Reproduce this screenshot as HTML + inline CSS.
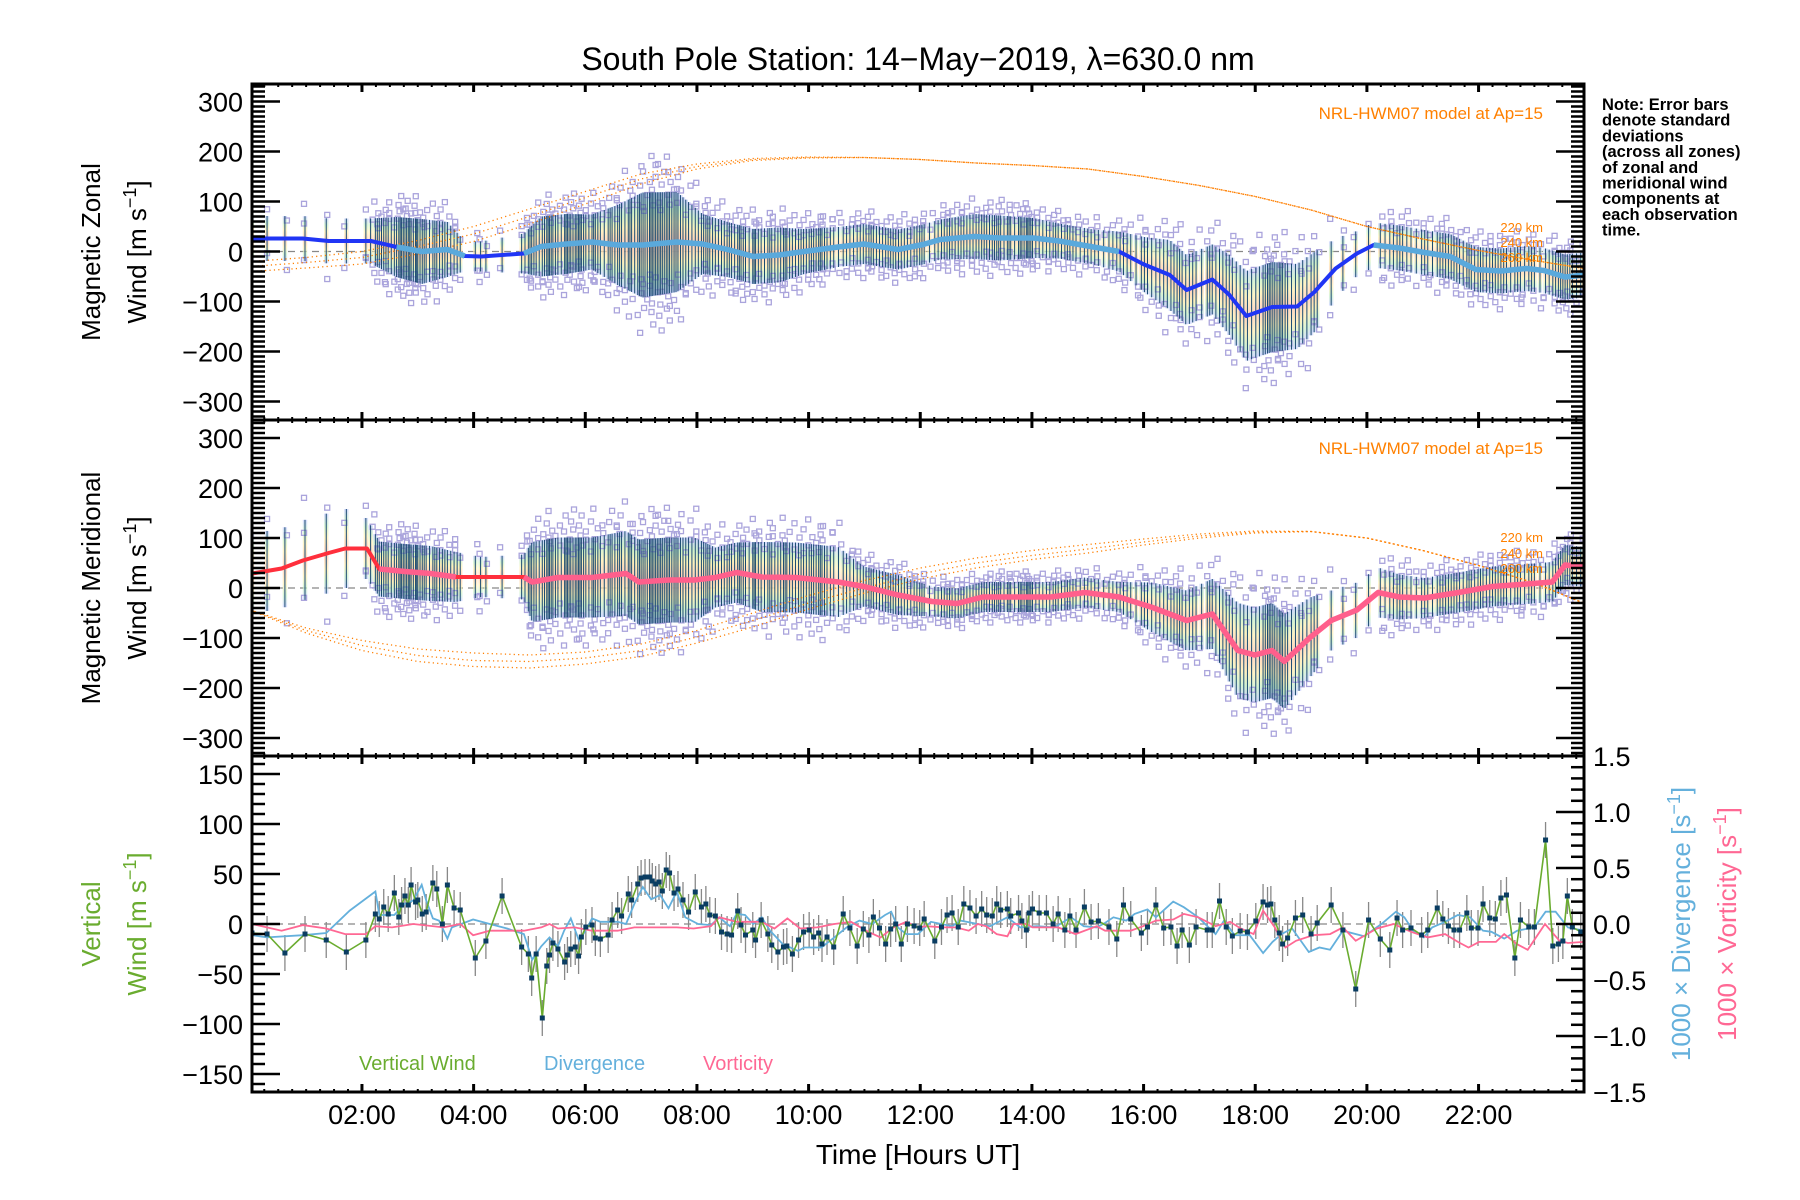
<!DOCTYPE html>
<html><head><meta charset="utf-8"><style>
html,body{margin:0;padding:0;background:#fff;}
svg{display:block;font-family:"Liberation Sans",sans-serif;}
</style></head><body>
<svg id="chart" xmlns="http://www.w3.org/2000/svg" width="1800" height="1200" viewBox="0 0 1800 1200">
<defs>
<linearGradient id="rainbow" x1="0" y1="0" x2="0" y2="1">
<stop offset="0" stop-color="#c4ccff"/><stop offset="0.15" stop-color="#c8f0c4"/><stop offset="0.3" stop-color="#fff0b0"/><stop offset="0.5" stop-color="#ffc4ae"/><stop offset="0.7" stop-color="#ffeeb0"/><stop offset="0.85" stop-color="#c8f0c8"/><stop offset="1" stop-color="#c4ccff"/>
</linearGradient>
<clipPath id="c1"><rect x="252" y="84" width="1332" height="336"/></clipPath>
<clipPath id="c2"><rect x="252" y="420" width="1332" height="336"/></clipPath>
<clipPath id="c3"><rect x="252" y="756" width="1332" height="336"/></clipPath>
</defs>
<text x="918" y="70" font-size="32" text-anchor="middle">South Pole Station: 14−May−2019, λ=630.0 nm</text>
<g id="p1" clip-path="url(#c1)"></g>
<g id="p2" clip-path="url(#c2)"></g>
<g id="p3" clip-path="url(#c3)"></g>
<g id="axes"></g>
<text transform="rotate(-90 100 252)" x="100" y="252" font-size="26" text-anchor="middle">Magnetic Zonal</text>
<text transform="rotate(-90 146 252)" x="146" y="252" font-size="26" text-anchor="middle">Wind [m s<tspan dy="-10" font-size="18">−1</tspan><tspan dy="10">]</tspan></text>
<text transform="rotate(-90 100 588)" x="100" y="588" font-size="26" text-anchor="middle">Magnetic Meridional</text>
<text transform="rotate(-90 146 588)" x="146" y="588" font-size="26" text-anchor="middle">Wind [m s<tspan dy="-10" font-size="18">−1</tspan><tspan dy="10">]</tspan></text>
<text transform="rotate(-90 100 924)" x="100" y="924" font-size="26" fill="#6aac2f" text-anchor="middle">Vertical</text>
<text transform="rotate(-90 146 924)" x="146" y="924" font-size="26" fill="#6aac2f" text-anchor="middle">Wind [m s<tspan dy="-10" font-size="18">−1</tspan><tspan dy="10">]</tspan></text>
<text transform="rotate(-90 1690 924)" x="1690" y="924" font-size="26" fill="#64b0dc" text-anchor="middle">1000 × Divergence [s<tspan dy="-10" font-size="18">−1</tspan><tspan dy="10">]</tspan></text>
<text transform="rotate(-90 1736 924)" x="1736" y="924" font-size="26" fill="#ff6894" text-anchor="middle">1000 × Vorticity [s<tspan dy="-10" font-size="18">−1</tspan><tspan dy="10">]</tspan></text>
<text x="918" y="1164" font-size="28" text-anchor="middle">Time [Hours UT]</text>
<g font-size="16.5" font-weight="bold" fill="#000">
<text x="1602" y="110">Note: Error bars</text><text x="1602" y="125.7">denote standard</text><text x="1602" y="141.4">deviations</text><text x="1602" y="157.1">(across all zones)</text><text x="1602" y="172.8">of zonal and</text><text x="1602" y="188.5">meridional wind</text><text x="1602" y="204.2">components at</text><text x="1602" y="219.9">each observation</text><text x="1602" y="235.6">time.</text>
</g>
<text x="1543" y="119" font-size="17" fill="#ff8000" text-anchor="end">NRL-HWM07 model at Ap=15</text>
<text x="1543" y="454" font-size="17" fill="#ff8000" text-anchor="end">NRL-HWM07 model at Ap=15</text>
<g font-size="13" fill="#ff8000" text-anchor="end"><text x="1543" y="232">220 km</text><text x="1543" y="247">240 km</text><text x="1543" y="262">260 km</text></g>
<g font-size="13" fill="#ff8000" text-anchor="end"><text x="1543" y="542">220 km</text><text x="1543" y="558">240 km</text><text x="1543" y="573">260 km</text></g>
<text x="359" y="1070" font-size="20" fill="#6aac2f">Vertical Wind</text>
<text x="544" y="1070" font-size="20" fill="#64b0dc">Divergence</text>
<text x="703" y="1070" font-size="20" fill="#ff6894">Vorticity</text>
</svg>
<script>
const zonalTime=[0.03,0.94,1.40,2.16,2.62,3.07,3.53,3.84,4.14,4.90,5.21,5.66,6.12,6.58,7.03,7.64,8.10,8.55,9.01,9.47,9.92,10.53,10.99,11.6,12.05,12.36,12.97,13.42,14.03,14.49,15.1,15.56,16.01,16.47,16.77,17.23,17.53,17.84,18.3,18.75,19.06,19.44,19.82,20.12,20.58,21.03,21.49,21.95,22.4,22.86,23.17,23.55,23.9];
const zonalMean=[26,26,21,21,9,0,4,-9,-10,-4,10,15,19,13,13,19,15,4,-10,-7,0,9,15,4,14,24,30,27,27,21,9,0,-26,-47,-77,-56,-86,-129,-111,-110,-81,-34,-4,13,7,-2,-10,-36,-39,-34,-38,-51,-47];
const zonalStd=[45,45,45,45,60,65,55,30,30,40,60,60,55,80,105,100,60,55,55,55,45,40,40,40,40,40,45,45,40,35,35,40,55,70,70,70,80,90,90,85,80,60,45,45,45,45,45,45,45,45,45,45,45];
const merTime=[0.03,0.56,0.94,1.40,1.70,2.09,2.31,2.77,3.23,3.68,4.14,4.90,5.05,5.51,6.12,6.73,6.96,7.49,7.95,8.33,8.71,9.16,9.77,10.53,10.99,11.6,12.21,12.66,13.12,13.73,14.34,14.95,15.56,16.16,16.77,17.23,17.69,17.99,18.3,18.52,18.98,19.36,19.82,20.2,20.58,21.03,21.64,22.25,22.86,23.32,23.55,23.9];
const merMean=[29,39,55,70,79,79,38,33,29,22,22,22,12,21,21,29,12,16,16,21,31,22,21,12,3,-14,-27,-31,-18,-18,-18,-9,-18,-39,-65,-52,-125,-134,-125,-147,-99,-65,-44,-9,-18,-20,-9,3,8,12,46,42];
const merStd=[80,80,80,80,80,60,55,55,55,50,40,45,80,80,80,85,85,85,85,60,60,70,70,70,40,40,30,30,30,30,30,30,30,50,60,70,95,95,95,95,80,60,55,50,45,40,40,40,40,40,40,40];
const modelHours=[0,1,2,3,4,5,6,7,8,9,10,11,12,13,14,15,16,17,18,19,20,21,22,23,23.9];
const zonal220=[-20,-12,0,22,50,85,120,155,175,186,189,188,184,177,172,165,150,132,110,83,50,25,2,-18,-34];
const zonal240=[-30,-22,-12,10,35,70,108,145,170,184,188,188,184,177,172,165,150,132,110,83,50,25,2,-18,-34];
const zonal260=[-40,-33,-25,-5,20,55,95,135,165,182,187,188,184,177,172,165,150,132,110,83,50,25,2,-18,-34];
const mer220=[-44,-80,-105,-122,-130,-134,-128,-112,-85,-50,-15,15,40,60,75,87,98,108,114,113,100,75,45,10,-31];
const mer240=[-44,-85,-115,-135,-145,-147,-140,-125,-98,-65,-30,0,28,50,65,78,92,104,112,113,100,75,45,10,-31];
const mer260=[-44,-90,-125,-147,-157,-160,-152,-137,-110,-78,-42,-10,18,40,57,70,86,100,110,113,100,75,45,10,-31];
const vwTime=[0.03,0.3,0.62,0.98,1.36,1.72,2.07,2.24,2.31,2.39,2.47,2.58,2.66,2.71,2.77,2.83,2.88,2.96,3.0,3.08,3.15,3.27,3.34,3.44,3.53,3.65,3.76,4.03,4.22,4.51,4.86,4.98,5.04,5.12,5.23,5.31,5.36,5.42,5.51,5.63,5.68,5.74,5.82,5.88,5.93,6.01,6.12,6.18,6.27,6.41,6.48,6.58,6.65,6.77,6.83,6.94,7.0,7.07,7.15,7.2,7.26,7.32,7.38,7.45,7.51,7.59,7.66,7.75,7.85,7.97,8.08,8.16,8.23,8.33,8.44,8.54,8.62,8.73,8.79,8.87,9.0,9.05,9.15,9.27,9.34,9.45,9.55,9.61,9.71,9.82,9.91,10.01,10.09,10.18,10.24,10.33,10.45,10.62,10.74,10.87,10.98,11.08,11.16,11.27,11.38,11.47,11.56,11.66,11.77,11.89,11.99,12.07,12.26,12.38,12.48,12.57,12.68,12.78,12.89,13.0,13.1,13.19,13.29,13.37,13.44,13.56,13.62,13.76,13.82,13.9,13.95,14.01,14.13,14.26,14.38,14.47,14.59,14.68,14.79,14.94,15.06,15.19,15.38,15.52,15.64,15.77,15.96,16.07,16.22,16.36,16.49,16.6,16.69,16.82,16.94,17.14,17.23,17.36,17.48,17.59,17.73,17.86,18.01,18.14,18.22,18.28,18.35,18.43,18.49,18.58,18.72,18.85,19.0,19.11,19.36,19.57,19.8,20.03,20.24,20.41,20.54,20.64,20.79,20.98,21.09,21.26,21.36,21.46,21.56,21.66,21.79,21.87,21.99,22.08,22.2,22.3,22.4,22.5,22.65,22.75,22.9,23.0,23.2,23.33,23.43,23.51,23.59,23.68,23.83];
const vwVal=[-9,-10,-29,-10,-16,-28,-16,10,5,17,10,31,7,19,28,19,39,22,24,10,12,41,35,0,39,16,14,-34,-17,28,-23,-30,-54,-30,-94,-42,-31,-19,-25,-38,-31,-25,-23,-32,-13,-3,-1,-14,-15,-11,4,14,8,30,24,40,46,47,47,43,40,42,33,54,51,31,35,24,12,32,17,20,9,8,-8,-10,-11,13,-1,-11,-6,-16,4,-10,-21,-28,-23,-22,-30,-16,-8,-6,-13,-9,-20,-13,-23,10,-4,-22,-5,-11,7,-4,-20,-5,0,-20,0,-2,-4,5,-17,-3,9,11,-3,20,16,8,15,9,8,20,14,15,8,11,3,-6,11,15,11,11,0,10,-6,8,-6,17,2,3,-3,-15,19,5,-9,-3,19,-4,-3,-22,-6,-21,-3,-6,-6,23,-3,-12,-7,-8,3,22,19,20,4,-9,-20,-14,6,9,-10,1,19,-6,-65,4,-15,-26,6,-6,-4,-11,-6,16,5,-2,-6,-6,11,-4,-4,20,6,5,26,29,-34,4,-3,-3,84,-22,-20,-17,28,-3,-8];
const divTime=[0.03,0.30,0.94,1.36,1.78,2.24,2.31,2.58,2.77,2.92,3.07,3.15,3.27,3.38,3.53,3.61,3.99,4.29,4.60,4.90,5.05,5.21,5.36,5.51,5.62,5.74,5.89,6.04,6.12,6.27,6.58,6.73,6.88,7.03,7.18,7.34,7.49,7.64,7.79,8.02,8.25,8.40,8.59,8.71,8.86,9.01,9.16,9.31,9.54,9.81,9.92,10.23,10.46,10.68,10.91,11.14,11.37,11.48,11.6,11.75,11.96,12.19,12.57,12.72,13.03,13.25,13.56,13.79,14.09,14.4,14.7,14.93,15.16,15.31,15.46,15.69,15.84,16.07,16.22,16.53,16.72,16.98,17.29,17.44,17.63,17.9,18.14,18.31,18.47,18.66,18.96,19.15,19.34,19.57,19.95,20.26,20.52,20.67,20.83,21.02,21.17,21.4,21.63,21.85,22.08,22.23,22.46,22.69,23.0,23.2,23.38,23.6,23.89];
const divVal=[-0.10,-0.12,-0.10,-0.08,0.12,0.29,0.08,0.08,0.18,0.21,0.35,0.21,0.05,0.03,-0.13,-0.03,0.04,0.0,-0.04,-0.09,-0.32,-0.2,-0.12,-0.2,-0.06,0.05,-0.15,-0.03,0.05,0.02,0.02,0,0.18,0.33,0.22,0.26,0.14,0.29,0.06,0,-0.01,0.06,-0.02,0.09,0.08,0,0.06,-0.06,-0.18,-0.24,-0.21,-0.21,-0.12,-0.03,0.03,0,0.08,0.11,-0.03,-0.09,-0.09,0.02,-0.02,0.03,0,-0.02,0.06,-0.03,-0.02,-0.03,0.06,-0.02,-0.03,0.01,0.06,0.03,0.09,0.13,0.06,0.2,0.15,0.06,-0.09,0.03,-0.1,-0.1,-0.26,-0.16,-0.09,-0.04,-0.25,-0.21,-0.23,-0.06,-0.11,0,0.11,0.06,-0.06,-0.12,-0.03,0.02,0.08,0.06,-0.06,-0.07,-0.13,-0.06,-0.03,0.11,0.11,-0.03,-0.06];
const vortTime=[0.03,0.56,0.94,1.36,1.70,2.07,2.24,2.54,2.92,3.46,3.76,3.99,4.29,4.6,4.9,5.21,5.36,5.51,5.81,6.12,6.58,6.88,7.34,7.64,7.94,8.25,8.40,8.71,9.16,9.39,9.62,9.85,10.15,10.46,10.76,11.07,11.29,11.52,11.75,11.96,12.11,12.42,12.64,12.87,13.03,13.18,13.37,13.56,13.67,13.9,14.01,14.47,14.78,15.16,15.31,15.77,15.99,16.22,16.53,16.72,16.98,17.29,17.55,17.74,17.97,18.14,18.35,18.54,18.73,19.04,19.34,19.57,19.8,20.18,20.48,20.79,21.09,21.4,21.63,21.82,22.01,22.31,22.46,22.69,22.88,23.19,23.45,23.6,23.89];
const vortVal=[0,-0.06,-0.01,-0.04,-0.09,-0.09,-0.02,-0.03,0,-0.03,0,-0.1,-0.06,-0.06,-0.06,-0.03,0,-0.04,-0.03,-0.06,-0.06,-0.03,-0.03,-0.03,-0.04,-0.02,0.06,0.02,0.02,-0.04,0.05,-0.04,-0.03,0,0.02,-0.07,-0.12,-0.03,0.02,-0.03,-0.02,-0.03,-0.03,-0.06,0,-0.02,-0.09,-0.11,0,0,-0.03,-0.03,-0.09,-0.02,-0.06,-0.06,-0.02,0.03,0.04,0.09,0.06,-0.02,0.02,-0.04,-0.09,0.12,-0.03,-0.21,-0.15,-0.1,-0.09,-0.03,-0.15,-0.04,0,-0.07,-0.12,-0.09,-0.16,-0.21,-0.16,-0.16,-0.09,-0.18,-0.23,0,-0.15,-0.17,-0.16];
const xTickLabels=["02:00","04:00","06:00","08:00","10:00","12:00","14:00","16:00","18:00","20:00","22:00"];
const windTickLabels=["−300","−200","−100","0","100","200","300"];
const vertTickLabels=["−150","−100","−50","0","50","100","150"];
const rateTickLabels=["−1.5","−1.0","−0.5","0.0","0.5","1.0","1.5"];

const NS="http://www.w3.org/2000/svg";
const X=h=>250.3+55.83*h;
const Y1=v=>251.5-v*0.5;
const Y2=v=>588-v*0.5;
const Y3=v=>924-v;
const Y3r=d=>924-d*112;
function mk(tag,attrs,parent){const e=document.createElementNS(NS,tag);for(const k in attrs)e.setAttribute(k,attrs[k]);parent.appendChild(e);return e;}
function interp(ts,vs,t){if(t<=ts[0])return vs[0];for(let i=1;i<ts.length;i++){if(t<=ts[i]){const f=(t-ts[i-1])/(ts[i]-ts[i-1]);return vs[i-1]+f*(vs[i]-vs[i-1]);}}return vs[vs.length-1];}
function pts(ts,vs,Y){return ts.map((t,i)=>X(t).toFixed(1)+","+Y(vs[i]).toFixed(1)).join(" ");}

const obs=[];
for(let i=0;i<vwTime.length;i++){obs.push(vwTime[i]);if(i<vwTime.length-1&&vwTime[i+1]-vwTime[i]<0.2)obs.push((vwTime[i]+vwTime[i+1])/2);}
const kCycle=[1.05,1.3,0.8,1.55,1.15,0.65,1.4,0.95,1.7,1.2,0.75];

function windPanel(g,Y,T,M,S,models,name,baseCol,overCol,ranges){
  const zl=mk('line',{x1:252,x2:1584,y1:Y(0),y2:Y(0),stroke:'#888',"stroke-width":1.3,"stroke-dasharray":"7 5"},g);
  
  
  obs.forEach((t,i)=>{
    const m=interp(T,M,t),s=interp(T,S,t);
    const band=mk('rect',{x:X(t)-2.2,y:Y(m+s),width:4.4,height:Math.abs(Y(m-s)-Y(m+s)),fill:'url(#rainbow)',opacity:0.7},g);
    
    
  });
  obs.forEach((t,i)=>{
    const m=interp(T,M,t),s=interp(T,S,t);
    const ks=[kCycle[i%11],-kCycle[(i+4)%11]];
    if(i%3===0)ks.push(kCycle[(i+7)%11]*(i%2?1:-1)*0.9);
    ks.forEach(k=>{
      const sq=mk('rect',{x:X(t)-2.5+((i*7)%5-2),y:Y(m+s*k)-2.5,width:5,height:5,fill:'none',stroke:'#aaa4dc',"stroke-width":1.3},g);
      
      
    });
  });
  obs.forEach(t=>{
    const m=interp(T,M,t),s=interp(T,S,t);
    const b=mk('line',{x1:X(t),x2:X(t),y1:Y(m+s),y2:Y(m-s),stroke:'#1a4a70',"stroke-width":1},g);
    
    
  });
  models.forEach((arr,j)=>{
    const p=mk('polyline',{points:pts(modelHours,arr,Y),fill:'none',stroke:'#ff7f00',"stroke-width":1.3,"stroke-dasharray":"1.2 3.2","stroke-dashoffset":j*1.4},g);
    
    
  });
  const base=mk('polyline',{points:pts(T,M,Y),fill:'none',stroke:baseCol,"stroke-width":4,"stroke-linejoin":"round"},g);
  
  
  ranges.forEach(r=>{
    const tt=[],vv=[];
    T.forEach((t,i)=>{if(t>=r[0]&&t<=r[1]){tt.push(t);vv.push(M[i]);}});
    const o=mk('polyline',{points:pts(tt,vv,Y),fill:'none',stroke:overCol,"stroke-width":5.5,"stroke-linejoin":"round"},g);
    
    
  });
}
windPanel(document.getElementById('p1'),Y1,zonalTime,zonalMean,zonalStd,[zonal220,zonal240,zonal260],'zonal','#2035f5','#5aa9dc',[[2.62,3.84],[4.9,15.56],[20.12,23.9]]);
windPanel(document.getElementById('p2'),Y2,merTime,merMean,merStd,[mer220,mer240,mer260],'meridional','#ff2f3c','#ff5f8c',[[2.31,3.68],[4.9,23.9]]);

const g3=document.getElementById('p3');
const z3=mk('line',{x1:252,x2:1584,y1:Y3(0),y2:Y3(0),stroke:'#888',"stroke-width":1.3,"stroke-dasharray":"7 5"},g3);


vwTime.forEach((t,i)=>{
  const b=mk('line',{x1:X(t),x2:X(t),y1:Y3(vwVal[i]+18),y2:Y3(vwVal[i]-18),stroke:'#888',"stroke-width":1.3},g3);
  
  
});
const dv=mk('polyline',{points:pts(divTime,divVal,Y3r),fill:'none',stroke:'#64b0dc',"stroke-width":1.8},g3);


const vo=mk('polyline',{points:pts(vortTime,vortVal,Y3r),fill:'none',stroke:'#ff6894',"stroke-width":1.8},g3);


const vw=mk('polyline',{points:pts(vwTime,vwVal,Y3),fill:'none',stroke:'#6aac2f',"stroke-width":1.6},g3);


vwTime.forEach((t,i)=>{
  const s=mk('rect',{x:X(t)-2.5,y:Y3(vwVal[i])-2.5,width:5,height:5,fill:'#0a3d62'},g3);
  
  
});

const ax=document.getElementById('axes');
[[84,420,'zonal'],[420,756,'meridional'],[756,1092,'vertical']].forEach(([t,b,n])=>{
  const r=mk('rect',{x:252,y:t,width:1332,height:b-t,fill:'none',stroke:'#000',"stroke-width":3},ax);
  
  
  for(let q=1;q<=95;q++){
    const h=q*0.25,x=X(h);if(x>1582)break;
    const L=(q%8===0)?8:3;
    [[t,t+L],[b,b-L]].forEach(([a,c])=>{
      const tk=mk('line',{x1:x,x2:x,y1:a,y2:c,stroke:'#000',"stroke-width":q%8===0?3:2},ax);
      
      
    });
  }
});
function yTicks(Y,lo,hi,minor,major,side){
  for(let v=lo;v<=hi+1e-9;v+=minor){
    const isMaj=Math.abs(v/major-Math.round(v/major))<1e-6;
    const L=isMaj?28:13,y=Y(v);
    const x0=side==='l'?252:1584,x1=side==='l'?252+L:1584-L;
    const tk=mk('line',{x1:x0,x2:x1,y1:y,y2:y,stroke:'#000',"stroke-width":2.5},ax);
    
    
  }
}
function yLabels(Y,vals,labels,side,cls){
  vals.forEach((v,i)=>{
    const tx=mk('text',{x:side==='l'?243:1593,y:Y(v)+10,"font-size":27,"text-anchor":side==='l'?'end':'start'},ax);
    tx.textContent=labels[i];
    
    
  });
}
const wv=[-300,-200,-100,0,100,200,300];
[Y1,Y2].forEach(Y=>{yTicks(Y,-330,330,10,100,'l');yTicks(Y,-330,330,10,100,'r');});
yLabels(Y1,wv,windTickLabels,'l','zonal-y');
yLabels(Y2,wv,windTickLabels,'l','meridional-y');
yTicks(Y3,-160,160,10,50,'l');
yLabels(Y3,[-150,-100,-50,0,50,100,150],vertTickLabels,'l','vertical-y');
for(let k=-15;k<=15;k++){
  const d=k/10,y=Y3r(d),maj=k%5===0,L=maj?28:13;
  const tk=mk('line',{x1:1584,x2:1584-L,y1:y,y2:y,stroke:'#000',"stroke-width":2.5},ax);
  
  
}
yLabels(Y3r,[-1.5,-1.0,-0.5,0,0.5,1.0,1.5],rateTickLabels,'r','rate-y');
xTickLabels.forEach((s,i)=>{
  const tx=mk('text',{x:X(2+2*i),y:1124,"font-size":27,"text-anchor":"middle"},ax);
  tx.textContent=s;
  
  
});
</script>
</body></html>
